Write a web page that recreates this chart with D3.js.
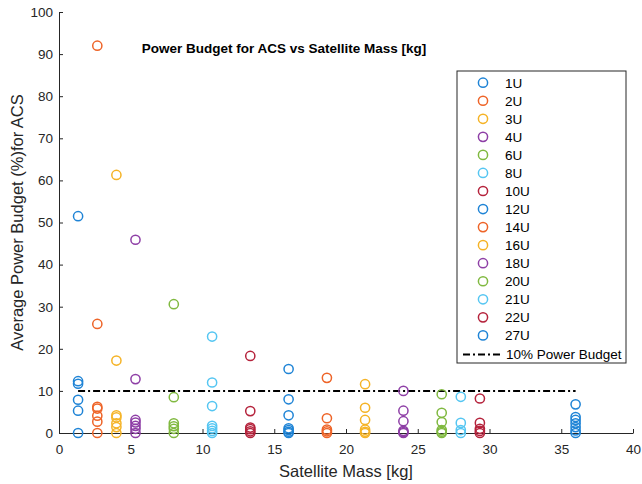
<!DOCTYPE html>
<html>
<head>
<meta charset="utf-8">
<script src="https://cdn.jsdelivr.net/npm/d3@7"></script>
<style>
  body { margin: 0; background: #fff; }
  svg { font-family: "Liberation Sans", Arial, sans-serif; }
</style>
</head>
<body>
<div id="chart"></div>
<script>
// satellite classes, mass [kg] and average ACS power budget [%]
var sizes = ["1U", "2U", "3U", "4U", "6U", "8U", "10U", "12U", "14U", "16U", "18U", "20U", "21U", "22U", "27U"]
var masses = [1.33, 2.67, 4, 5.33, 8, 10.67, 13.33, 16, 18.67, 21.33, 24, 26.67, 28, 29.33, 36]
var budgets = [
    [51.5, 12.3, 11.7, 7.9, 5.3, 0],
    [92, 25.9, 6.2, 5.8, 4.1, 2.7, 0],
    [61.3, 17.2, 4.2, 3.7, 2.3, 1.4, 0],
    [45.9, 12.8, 3.1, 2.5, 1.7, 1.0, 0],
    [30.6, 8.5, 2.3, 1.6, 1.0, 0],
    [22.9, 12.0, 6.4, 1.7, 1.1, 0.5, 0],
    [18.3, 5.2, 1.3, 0.9, 0.4, 0],
    [15.2, 8.0, 4.2, 1.1, 0.7, 0.3, 0],
    [13.1, 3.5, 0.8, 0.4, 0],
    [11.6, 6.0, 3.1, 0.8, 0.3, 0],
    [10.0, 5.3, 2.8, 0.5, 0.2, 0],
    [9.2, 4.8, 2.6, 0.7, 0.3, 0],
    [8.6, 2.4, 0.7, 0],
    [8.2, 2.4, 1.0, 0.5, 0],
    [6.8, 3.8, 3.1, 2.3, 1.4, 0.6, 0]
]
var budgetLimit = 10
var xTicks = [0, 5, 10, 15, 20, 25, 30, 35, 40]
var yTicks = [0, 10, 20, 30, 40, 50, 60, 70, 80, 90, 100]

var colors = ["#1f84d6", "#ee6428", "#f5b326", "#8e3fa6", "#80b940", "#55c6f2", "#b5233c"]

var margin = {top: 12, right: 9, bottom: 51, left: 59},
    width = 642 - margin.left - margin.right,
    height = 484 - margin.top - margin.bottom;

var svg = d3.select("#chart")
    .append("svg")
        .attr("width", 642)
        .attr("height", 484)
    .append("g")
        .attr("transform", "translate(" + margin.left + "," + margin.top + ")");

var x = d3.scaleLinear().domain([0, 40]).range([0, width])
var y = d3.scaleLinear().domain([0, 100]).range([height, 0])

var xAxis = svg.append("g")
    .attr("transform", "translate(0," + height + ")")
    .call(d3.axisBottom(x).tickValues(xTicks).tickSizeInner(-4).tickSizeOuter(0).tickPadding(11))
var yAxis = svg.append("g")
    .call(d3.axisLeft(y).tickValues(yTicks).tickSizeInner(-4).tickSizeOuter(0).tickPadding(6))

;[xAxis, yAxis].forEach(a => {
    a.select(".domain").attr("stroke", "#262626").attr("stroke-width", 1)
    a.selectAll(".tick line").attr("stroke", "#262626")
    a.selectAll(".tick text").attr("fill", "#262626").style("font-size", "13.5px")
})

// threshold line
svg.append("line")
    .attr("x1", x(masses[0]))
    .attr("x2", x(masses[masses.length - 1]))
    .attr("y1", y(budgetLimit))
    .attr("y2", y(budgetLimit))
    .attr("stroke", "#000")
    .attr("stroke-width", 2)
    .attr("stroke-dasharray", "7,3,2,3")

sizes.forEach((s, i) => {
    svg.append("g").selectAll("circle")
        .data(budgets[i])
        .enter().append("circle")
            .attr("cx", x(masses[i]))
            .attr("cy", d => y(d))
            .attr("r", 4.6)
            .attr("fill", "none")
            .attr("stroke", colors[i % colors.length])
            .attr("stroke-width", 1.5)
})

svg.append("text")
    .attr("x", 284 - margin.left)
    .attr("y", 53 - margin.top)
    .attr("text-anchor", "middle")
    .style("font-size", "13.5px")
    .style("font-weight", "bold")
    .attr("fill", "#000")
    .text("Power Budget for ACS vs Satellite Mass [kg]")

svg.append("text")
    .attr("x", width / 2)
    .attr("y", height + 44)
    .attr("text-anchor", "middle")
    .style("font-size", "16.5px")
    .attr("fill", "#262626")
    .text("Satellite Mass [kg]")

svg.append("text")
    .attr("transform", "translate(-36," + (height / 2) + ") rotate(-90)")
    .attr("text-anchor", "middle")
    .style("font-size", "16.5px")
    .attr("fill", "#262626")
    .text("Average Power Budget (%)for ACS")

// legend
var lg = svg.append("g").attr("transform", "translate(" + (457 - margin.left) + "," + (71 - margin.top) + ")")
lg.append("rect")
    .attr("width", 169)
    .attr("height", 292)
    .attr("fill", "#fff")
    .attr("stroke", "#262626")
    .attr("stroke-width", 1)

sizes.forEach((s, i) => {
    var yy = 11.7 + i * 18.05
    lg.append("circle")
        .attr("cx", 26)
        .attr("cy", yy)
        .attr("r", 4.6)
        .attr("fill", "none")
        .attr("stroke", colors[i % colors.length])
        .attr("stroke-width", 1.5)
    lg.append("text")
        .attr("x", 48)
        .attr("y", yy + 5)
        .style("font-size", "13.5px")
        .attr("fill", "#000")
        .text(s)
})
var ly = 11.7 + 15 * 18.05 + 1
lg.append("line")
    .attr("x1", 6).attr("x2", 46)
    .attr("y1", ly).attr("y2", ly)
    .attr("stroke", "#000")
    .attr("stroke-width", 2)
    .attr("stroke-dasharray", "7,3,2,3")
lg.append("text")
    .attr("x", 49)
    .attr("y", ly + 5)
    .style("font-size", "13.5px")
    .attr("fill", "#000")
    .text("10% Power Budget")
</script>
</body>
</html>
